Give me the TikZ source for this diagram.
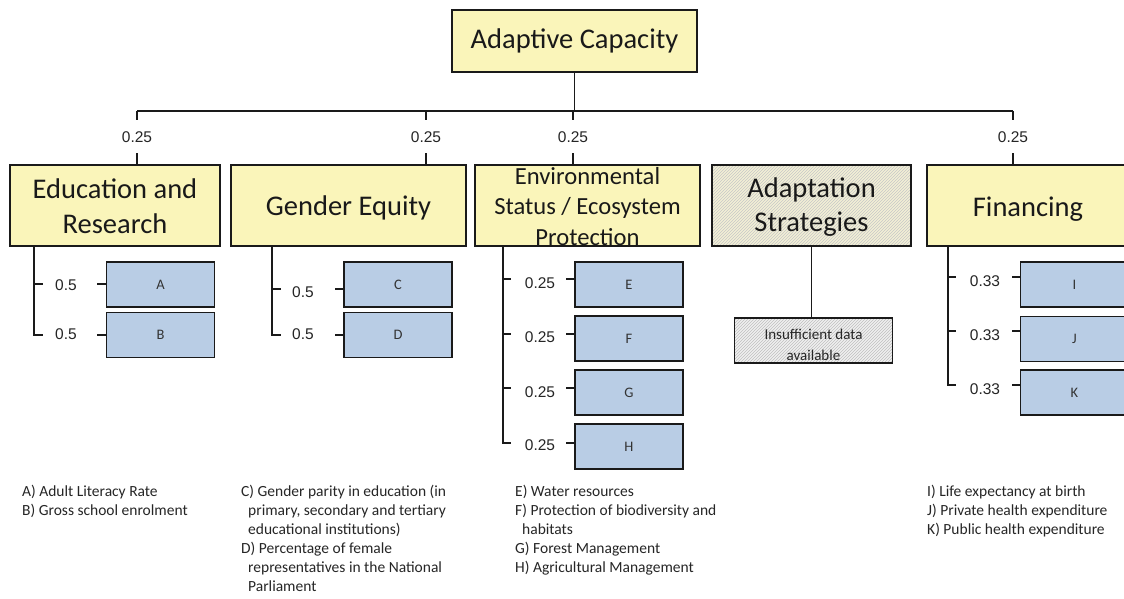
\documentclass[tikz,border=0pt]{standalone}
\usepackage{fontspec}
\setmainfont{Carlito}
\newfontfamily\arialf{Liberation Sans}
\usetikzlibrary{patterns}
\definecolor{hy}{HTML}{FAF5BA}
\definecolor{sb}{HTML}{B9CDE5}
\definecolor{ln}{HTML}{1A1A1A}
\definecolor{adafill}{HTML}{F3F0D6}
\definecolor{insfill}{HTML}{F0F0F0}
\begin{document}
\begin{tikzpicture}[x=1pt,y=-1pt,
 hdr/.style={draw=ln,line width=1.5pt,fill=hy,inner sep=0,minimum height=81pt},
 hdrtext/.style={align=center,font=\fontsize{28.5}{34.5}\selectfont,inner sep=0,text=black!90},
 subbox/.style={draw=ln,line width=1.4pt,fill=sb,minimum width=108pt,minimum height=45pt,inner sep=0,font=\fontsize{14.5}{17}\selectfont,text=black!80},
 wlab/.style={font=\arialf\fontsize{15.5}{18}\selectfont,inner sep=0,text=black!85},
 conn/.style={draw=ln,line width=1.1pt},
 legend/.style={anchor=north west,align=left,inner sep=0,font=\fontsize{15.5}{19}\selectfont,text=black!85}]
\useasboundingbox (0,0) rectangle (1124,599);
\clip (0,0) rectangle (1124,599);
\fill[white] (0,0) rectangle (1124,599);

% top box
\node[hdr,minimum width=245pt,minimum height=62pt] (ac) at (574.5,41) {};
\node[hdrtext] (actext) at (574.5,41) {Adaptive Capacity};

% header boxes
\node[hdr,minimum width=210pt] (edu) at (115,205.5) {};
\node[hdr,minimum width=235pt] (gen) at (348.5,205.5) {};
\node[hdr,minimum width=225pt] (env) at (587.5,205.5) {};
\node[draw=ln,line width=1.5pt,inner sep=0,minimum height=81pt,minimum width=199pt,
      preaction={fill=adafill},pattern=north east lines,pattern color=black!22] (ada) at (811.5,205.5) {};
\node[hdr,minimum width=202pt] (fin) at (1028,205.5) {};

% top connectors
\coordinate (hl) at (137,111);
\coordinate (hr) at (1013,111);
\draw[conn] (ac.south) -- (ac.south |- hl);
\draw[conn] (hl) -- (hr);
\foreach \xx/\nm in {137/edu,426/gen,573/env,1013/fin}{
  \draw[conn] (\xx,111) -- (\xx,120);
  \node[wlab] (w\nm) at (\xx,137) {0.25};
  \draw[conn] (\xx,153) -- (\xx,165);
}

% group 1
\node[subbox] (A) at (160.5,284.5) {A};
\node[subbox] (B) at (160.5,335) {B};
\draw[conn] (34,246) -- (34,335) -- (43,335);
\draw[conn] (34,284) -- (43,284);
\node[wlab] (wA) at (66,285.5) {0.5};
\node[wlab] (wB) at (66,334) {0.5};
\draw[conn] (97,284) -- (A.west |- 0,284);
\draw[conn] (97,335) -- (B.west |- 0,335);

% group 2
\node[subbox] (C) at (398,284.5) {C};
\node[subbox] (D) at (398,335) {D};
\draw[conn] (272,246) -- (272,335) -- (281,335);
\draw[conn] (272,289) -- (281,289);
\node[wlab] (wC) at (303,292) {0.5};
\node[wlab] (wD) at (303,334) {0.5};
\draw[conn] (335,289) -- (C.west |- 0,289);
\draw[conn] (335,335) -- (D.west |- 0,335);

% group 3
\node[subbox] (E) at (629,284.5) {E};
\node[subbox] (F) at (629,338.5) {F};
\node[subbox] (G) at (629,392.5) {G};
\node[subbox] (H) at (629,446.5) {H};
\draw[conn] (503,246) -- (503,443) -- (511,443);
\foreach \yy in {279,334,388}{
  \draw[conn] (503,\yy) -- (511,\yy);
}
\foreach \yy/\ly/\bx in {279/283/E,334/337/F,388/392/G,443/445/H}{
  \node[wlab] (w\bx) at (540,\ly) {0.25};
  \draw[conn] (566,\yy) -- (\bx.west |- 0,\yy);
}

% adaptation
\node[draw=ln,line width=1.2pt,inner sep=0,minimum width=158pt,minimum height=45pt,
      preaction={fill=insfill},pattern=north east lines,pattern color=black!25] (ins) at (813.5,340.5) {};
\node[align=center,inner sep=0,font=\fontsize{15}{20.5}\selectfont,text=black!85] (instext) at (813.5,345) {Insufficient data\\available};
\draw[conn] (ada.south) -- (ada.south |- ins.north);

% group 5
\node[subbox] (I) at (1074.5,284.5) {I};
\node[subbox] (J) at (1074.5,339) {J};
\node[subbox] (K) at (1074.5,392.5) {K};
\draw[conn] (948,246) -- (948,385) -- (956,385);
\draw[conn] (948,277) -- (956,277);
\draw[conn] (948,331) -- (956,331);
\foreach \yy/\ly/\bx in {277/281/I,331/335/J,385/389/K}{
  \node[wlab] (w\bx) at (985,\ly) {0.33};
  \draw[conn] (1012,\yy) -- (\bx.west |- 0,\yy);
}

% header texts
\node[hdrtext] (edutext) at (115,206) {Education and\\Research};
\node[hdrtext] (gentext) at (348.5,208) {Gender Equity};
\node[hdrtext,font=\fontsize{24.6}{30.5}\selectfont] (envtext) at (587.5,206.5) {Environmental\\Status / Ecosystem\\Protection};
\node[hdrtext] (adatext) at (811.5,207) {Adaptation\\Strategies};
\node[hdrtext] (fintext) at (1028,209) {Financing};

% legend
\node[legend] (leg1) at (22,485) {A) Adult Literacy Rate\\B) Gross school enrolment};
\node[legend] (leg2) at (241,485) {C) Gender parity in education (in\\\hspace*{7pt}primary, secondary and tertiary\\\hspace*{7pt}educational institutions)\\D) Percentage of female\\\hspace*{7pt}representatives in the National\\\hspace*{7pt}Parliament};
\node[legend] (leg3) at (515,485) {E) Water resources\\F) Protection of biodiversity and\\\hspace*{7pt}habitats\\G) Forest Management\\H) Agricultural Management};
\node[legend] (leg4) at (927,485) {I) Life expectancy at birth\\J) Private health expenditure\\K) Public health expenditure};
\end{tikzpicture}
\end{document}
